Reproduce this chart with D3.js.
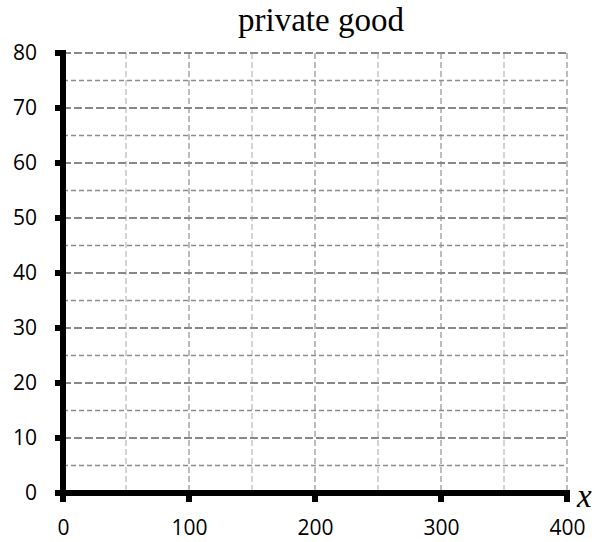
<!DOCTYPE html>
<html><head><meta charset="utf-8">
<script src="https://cdn.jsdelivr.net/npm/d3@7"></script>
<style>body{margin:0;background:#fff}svg{display:block}</style>
</head><body>
<svg id="c" width="595" height="542"></svg>
<script>
const title = "private good";
const xLabel = "x";
const xDomain = [0, 400];
const yDomain = [0, 80];
const xTicks = [0, 100, 200, 300, 400];
const yTicks = [0, 10, 20, 30, 40, 50, 60, 70, 80];
const xMinorGrid = [50, 150, 250, 350];
const yMinorGrid = [5, 15, 25, 35, 45, 55, 65, 75];

const svg = d3.select("#c");
const x = d3.scaleLinear().domain(xDomain).range([63, 567]);
const y = d3.scaleLinear().domain(yDomain).range([493, 53]);

const g = svg.append("g");
g.selectAll(".vmin").data(xMinorGrid).join("line")
  .attr("x1", d => x(d)).attr("x2", d => x(d))
  .attr("y1", y(80)).attr("y2", y(0))
  .attr("stroke", "#bdbdbd").attr("stroke-width", 1.3).attr("stroke-dasharray", "6,3");
g.selectAll(".vmaj").data(xTicks.filter(d => d > 0)).join("line")
  .attr("x1", d => x(d)).attr("x2", d => x(d))
  .attr("y1", y(80)).attr("y2", y(0))
  .attr("stroke", "#9a9a9a").attr("stroke-width", 1.3).attr("stroke-dasharray", "6,3");
g.selectAll(".hmin").data(yMinorGrid).join("line")
  .attr("x1", x(0)).attr("x2", x(400))
  .attr("y1", d => y(d)).attr("y2", d => y(d))
  .attr("stroke", "#8c8c8c").attr("stroke-width", 1.4).attr("stroke-dasharray", "5,3");
g.selectAll(".hmaj").data(yTicks.filter(d => d > 0)).join("line")
  .attr("x1", x(0)).attr("x2", x(400))
  .attr("y1", d => y(d)).attr("y2", d => y(d))
  .attr("stroke", "#888").attr("stroke-width", 2.2).attr("stroke-dasharray", "8,3");

const font = "'Open Sans', sans-serif";
const xAxis = d3.axisBottom(x).tickValues(xTicks).tickSize(0).tickPadding(27);
const ax = svg.append("g").attr("transform", `translate(0,${y(0)})`).call(xAxis);
ax.select(".domain").remove();
ax.selectAll("text").attr("font-family", font).attr("font-size", 21).attr("fill", "#000");

const yAxis = d3.axisLeft(y).tickValues(yTicks).tickSize(0).tickPadding(26);
const ay = svg.append("g").attr("transform", `translate(${x(0)},0)`).call(yAxis);
ay.select(".domain").remove();
ay.selectAll("text").attr("font-family", font).attr("font-size", 21).attr("fill", "#000");

svg.append("g").selectAll("rect").data(yTicks).join("rect")
  .attr("x", x(0) - 8).attr("y", d => y(d) - 3).attr("width", 8).attr("height", 6).attr("fill", "#000");
svg.append("g").selectAll("rect").data(xTicks).join("rect")
  .attr("x", d => x(d) - 3).attr("y", y(0)).attr("width", 6).attr("height", 9).attr("fill", "#000");

svg.append("line").attr("x1", x(0)).attr("x2", x(0)).attr("y1", y(80) - 3).attr("y2", y(0) + 3)
  .attr("stroke", "#000").attr("stroke-width", 6);
svg.append("line").attr("x1", x(0) - 3).attr("x2", x(400) + 3).attr("y1", y(0)).attr("y2", y(0))
  .attr("stroke", "#000").attr("stroke-width", 6);

svg.append("text").attr("x", 321).attr("y", 31).attr("text-anchor", "middle")
  .attr("font-family", "'Liberation Serif', serif").attr("font-size", 33).text(title);
svg.append("text").attr("x", 577).attr("y", 507)
  .attr("font-family", "'Liberation Serif', serif").attr("font-style", "italic").attr("font-size", 33).text(xLabel);
</script>
</body></html>
